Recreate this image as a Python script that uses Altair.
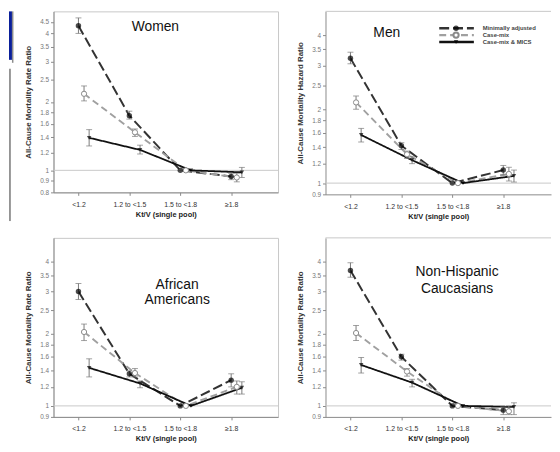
import json
import altair as alt
import pandas as pd

# ---------------- data ----------------
categories = ["<1.2", "1.2 to <1.5", "1.5 to <1.8", "≥1.8"]
series_names = ["Minimally adjusted", "Case-mix", "Case-mix & MICS"]

# Women
women_min = [4.32, 1.74, 1.0, 0.94]
women_min_lo = [4.00, 1.68, None, 0.91]
women_min_hi = [4.68, 1.82, None, 0.97]
women_case = [2.17, 1.47, 1.0, 0.93]
women_case_lo = [2.02, 1.41, None, 0.89]
women_case_hi = [2.35, 1.52, None, 0.97]
women_mics = [1.39, 1.23, 1.0, 0.98]
women_mics_lo = [1.28, 1.18, None, 0.93]
women_mics_hi = [1.51, 1.29, None, 1.03]

# Men
men_min = [3.22, 1.42, 1.0, 1.13]
men_min_lo = [3.06, 1.37, None, 1.08]
men_min_hi = [3.41, 1.46, None, 1.18]
men_case = [2.13, 1.31, 1.0, 1.09]
men_case_lo = [2.00, 1.26, None, 1.02]
men_case_hi = [2.26, 1.35, None, 1.16]
men_mics = [1.57, 1.24, 1.0, 1.07]
men_mics_lo = [1.47, 1.20, None, 1.01]
men_mics_hi = [1.67, 1.28, None, 1.13]

# African Americans
aa_min = [2.99, 1.36, 1.0, 1.28]
aa_min_lo = [2.77, 1.32, None, 1.20]
aa_min_hi = [3.23, 1.40, None, 1.36]
aa_case = [2.03, 1.37, 1.0, 1.20]
aa_case_lo = [1.87, 1.32, None, 1.12]
aa_case_hi = [2.19, 1.43, None, 1.27]
aa_mics = [1.44, 1.24, 1.0, 1.19]
aa_mics_lo = [1.32, 1.19, None, 1.12]
aa_mics_hi = [1.57, 1.27, None, 1.26]

# Non-Hispanic Caucasians
nhc_min = [3.66, 1.60, 1.0, 0.96]
nhc_min_lo = [3.43, 1.55, None, 0.92]
nhc_min_hi = [3.94, 1.64, None, 0.99]
nhc_case = [2.01, 1.39, 1.0, 0.95]
nhc_case_lo = [1.87, 1.33, None, 0.92]
nhc_case_hi = [2.16, 1.43, None, 1.00]
nhc_mics = [1.48, 1.25, 1.0, 0.99]
nhc_mics_lo = [1.37, 1.20, None, 0.92]
nhc_mics_hi = [1.59, 1.29, None, 1.03]

y_ticks_women = [0.8, 0.9, 1, 1.2, 1.4, 1.6, 1.8, 2, 2.5, 3, 3.5, 4, 4.5]
y_ticks_other = [0.9, 1, 1.2, 1.4, 1.6, 1.8, 2, 2.5, 3, 3.5, 4]
reference_value = [1]

# ---------------- styles ----------------
FONT = "Liberation Sans"
OFFSETS = [0.0, 0.11, 0.21]
COLORS = ["#333333", "#a0a0a0", "#111111"]
DASHES = [[10, 4], [7, 4], [1, 0]]
WIDTHS = [2.0, 1.8, 2.2]
EMPTY = alt.Data(values=[{}])


def make_df(v, lo, hi):
    rows = []
    for s, name in enumerate(series_names):
        for i in range(len(categories)):
            rows.append({"series": name, "s": s, "x": i + OFFSETS[s],
                         "y": v[s][i], "lo": lo[s][i], "hi": hi[s][i]})
    return pd.DataFrame(rows)


label_expr = json.dumps(categories, ensure_ascii=False) + "[round(datum.value)]"


def panel(v, lo, hi, ytitle, W, H, ydom, yvals, xmax, title_lines, tx, ty,
          lh, right=False, extra=()):
    df = make_df(v, lo, hi)
    xs = alt.Scale(domain=[-0.49, xmax], nice=False, zero=False)
    ys = alt.Scale(type="log", domain=ydom, nice=False)
    xax = alt.Axis(title="Kt/V (single pool)", values=[0, 1, 2, 3],
                   labelExpr=label_expr, grid=False, labelFont=FONT,
                   labelFontSize=7, labelColor="#333", titleFont=FONT,
                   titleFontSize=7.5, titleFontWeight="bold", titleColor="#222",
                   domainColor="#8a8a8a", tickColor="#8a8a8a", tickSize=3,
                   labelPadding=5, titlePadding=3)
    yax = alt.Axis(title=ytitle, values=yvals, format=".2~f", grid=False,
                   labelFont=FONT, labelFontSize=6.5, labelColor="#777",
                   titleFont=FONT, titleFontSize=8, titleFontWeight="bold",
                   titleColor="#333", domainColor="#8a8a8a", tickColor="#8a8a8a",
                   tickSize=3, labelPadding=2, titlePadding=7)

    def X(f):
        return alt.X(f + ":Q", scale=xs, axis=xax)

    def Y(f):
        return alt.Y(f + ":Q", scale=ys, axis=yax)

    base = alt.Chart(df)
    ref = alt.Chart(pd.DataFrame({"v": reference_value})).mark_rule(
        color="#c8c8c8", strokeWidth=1).encode(y=Y("v"))
    lines = base.mark_line().encode(
        x=X("x"), y=Y("y"),
        color=alt.Color("series:N", scale=alt.Scale(domain=series_names, range=COLORS), legend=None),
        strokeDash=alt.StrokeDash("series:N", scale=alt.Scale(domain=series_names, range=DASHES), legend=None),
        strokeWidth=alt.StrokeWidth("series:N", scale=alt.Scale(domain=series_names, range=WIDTHS), legend=None),
    )
    err = base.transform_filter("isValid(datum.lo)").mark_errorbar(
        ticks=True, size=6, thickness=1, color="#7a7a7a").encode(
        x=X("x"), y=Y("lo"), y2="hi:Q")
    p0 = base.transform_filter("datum.s == 0").mark_point(
        shape="circle", filled=True, size=30, color="#000").encode(x=X("x"), y=Y("y"))
    p1 = base.transform_filter("datum.s == 1").mark_point(
        shape="circle", filled=True, fill="white", stroke="#8a8a8a", strokeWidth=1,
        size=28, opacity=1).encode(x=X("x"), y=Y("y"))
    p2 = base.transform_filter("datum.s == 2").mark_point(
        shape="triangle-down", filled=True, size=20, color="#000").encode(x=X("x"), y=Y("y"))
    title = alt.Chart(EMPTY).mark_text(
        font=FONT, fontSize=14, align="center", baseline="middle", lineHeight=lh,
        color="#111").encode(x=alt.value(tx), y=alt.value(ty), text=alt.value(title_lines))
    layers = [ref, lines, err, p0, p1, p2, title]
    if right:
        layers.append(alt.Chart(EMPTY).mark_rule(color="#c8c8c8").encode(
            x=alt.value(0), x2=alt.value(W), y=alt.value(0)))
    layers.extend(extra)
    ch = alt.layer(*layers).properties(width=W, height=H)
    if right:
        ch = ch.properties(view=alt.ViewBackground(stroke="transparent"))
    return ch


# legend (drawn in the Men panel)
def legend_row(i, yy):
    out = []
    out.append(alt.Chart(EMPTY).mark_rule(color=COLORS[i], strokeWidth=WIDTHS[i] + 0.5,
                                          strokeDash=DASHES[i]).encode(
        x=alt.value(115), x2=alt.value(150), y=alt.value(yy)))
    if i == 0:
        m = alt.Chart(EMPTY).mark_point(shape="circle", filled=True, size=30, color="#000")
    elif i == 1:
        m = alt.Chart(EMPTY).mark_point(shape="circle", filled=True, fill="white",
                                        stroke="#8a8a8a", size=28, opacity=1)
    else:
        m = alt.Chart(EMPTY).mark_point(shape="triangle-down", filled=True, size=20, color="#000")
    out.append(m.encode(x=alt.value(132), y=alt.value(yy)))
    out.append(alt.Chart(EMPTY).mark_text(font=FONT, fontSize=6, fontWeight="bold",
                                          align="left", baseline="middle", color="#444").encode(
        x=alt.value(159), y=alt.value(yy), text=alt.value(series_names[i])))
    return out


legend_layers = legend_row(0, 17) + legend_row(1, 24) + legend_row(2, 31)

# decorations at the page's left edge (cropped slide elements)
deco = [
    alt.Chart(EMPTY).mark_rect(color="#0a1f9a").encode(
        x=alt.value(-45), x2=alt.value(-42), y=alt.value(0), y2=alt.value(49)),
    alt.Chart(EMPTY).mark_rect(color="#8c8c8c").encode(
        x=alt.value(-42), x2=alt.value(-40.5), y=alt.value(0), y2=alt.value(52)),
    alt.Chart(EMPTY).mark_rule(color="#333", strokeWidth=1).encode(
        x=alt.value(-44), y=alt.value(58), y2=alt.value(212)),
]

LW, RW = 227, 228
women = panel([women_min, women_case, women_mics], [women_min_lo, women_case_lo, women_mics_lo],
              [women_min_hi, women_case_hi, women_mics_hi], "All-Cause Mortality Rate Ratio",
              LW, 183, [0.8, 5], y_ticks_women, 3.92, "Women", 103, 16, 16, extra=deco)
men = panel([men_min, men_case, men_mics], [men_min_lo, men_case_lo, men_mics_lo],
            [men_min_hi, men_case_hi, men_mics_hi], "All-Cause Mortality Hazard Ratio",
            RW, 185, [0.9, 5], y_ticks_other, -0.49 + RW / 51.5, "Men", 62, 22, 16,
            right=True, extra=legend_layers)
aa = panel([aa_min, aa_case, aa_mics], [aa_min_lo, aa_case_lo, aa_mics_lo],
           [aa_min_hi, aa_case_hi, aa_mics_hi], "All-Cause Mortality Rate Ratio",
           LW, 181, [0.9, 5], y_ticks_other, 3.92, ["African", "Americans"], 125, 48, 15)
nhc = panel([nhc_min, nhc_case, nhc_mics], [nhc_min_lo, nhc_case_lo, nhc_mics_lo],
            [nhc_min_hi, nhc_case_hi, nhc_mics_hi], "All-Cause Mortality Rate Ratio",
            RW, 181, [0.9, 5], y_ticks_other, -0.49 + RW / 51.5, ["Non-Hispanic", "Caucasians"],
            133, 35, 17, right=True)

chart = alt.concat(women, men, aa, nhc, columns=2,
                   spacing={"row": 44, "column": 48}, bounds="flush").properties(
    padding={"left": 0, "top": 0, "right": 0, "bottom": 0},
    background="white",
).configure_view(stroke="#c8c8c8", strokeWidth=1)

chart.save("out.html", embed_options={"renderer": "svg", "actions": False})
